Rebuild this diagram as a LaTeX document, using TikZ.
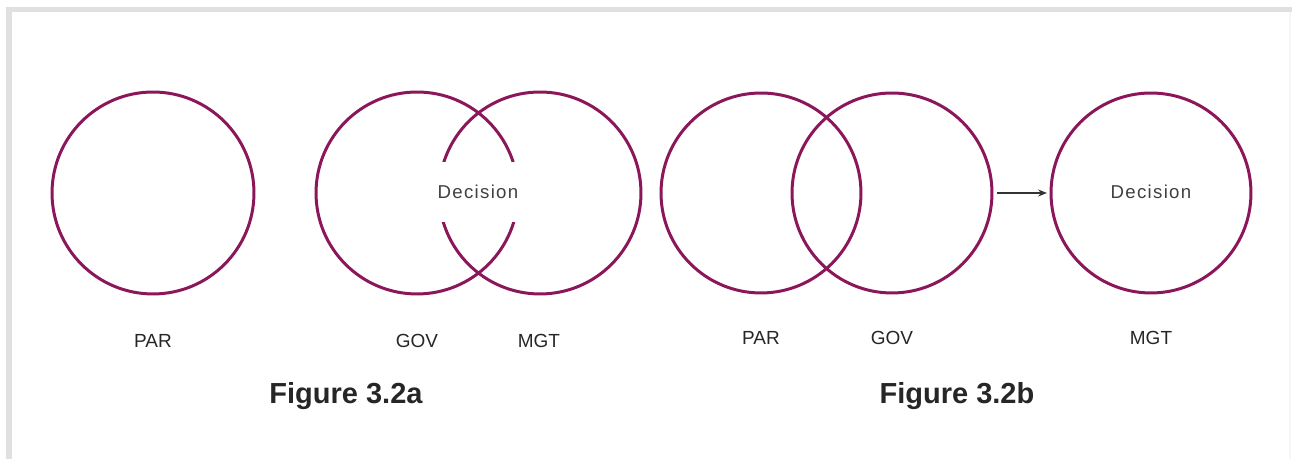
\documentclass[tikz,border=0pt]{standalone}
\usepackage{fontspec}
\setmainfont{Liberation Sans}
\newfontfamily\decfont[LetterSpace=7]{Liberation Sans}
\usetikzlibrary{arrows.meta}
\definecolor{ringcol}{RGB}{139,22,90}
\definecolor{framecol}{RGB}{224,224,226}
\tikzset{ring/.style={circle, draw=ringcol, line width=1.7pt, minimum size=#1, inner sep=0pt}}
\tikzset{lbl/.style={font=\fontsize{10.8}{13}\selectfont, text=black!85}}
\tikzset{dec/.style={font=\decfont\fontsize{10.6}{12}\selectfont, text=black!75}}
\tikzset{figtitle/.style={font=\bfseries\fontsize{16.5}{20}\selectfont, text=black!85}}

\begin{document}
\begin{tikzpicture}[x=0.02cm, y=0.02cm]
\useasboundingbox (0,0) rectangle (1292,459);

% frame
\draw[framecol, line width=2.9pt] (9,0) -- (9,449.5) -- (1292,449.5);
\draw[black!3, line width=0.6pt] (1290,0) -- (1290,447);

% Figure 3.2a
\node[ring=4.04cm] (para) at (153,266) {};
\node[ring=4.04cm] (gova) at (417,266) {};
\node[ring=4.04cm] (mgta) at (540,266) {};
\node[dec, fill=white, minimum width=1.7cm, minimum height=1.2cm] (deca) at (478,267) {Decision};

\node[lbl] (parlbla) at (153,118) {PAR};
\node[lbl] (govlbla) at (417,118) {GOV};
\node[lbl] (mgtlbla) at (539,118) {MGT};
\node[figtitle] (figa) at (346,63) {Figure 3.2a};

% Figure 3.2b
\node[ring=4.0cm] (parb) at (761,266) {};
\node[ring=4.0cm] (govb) at (892,266) {};
\node[ring=4.0cm] (decb) at (1151,266) {};
\node[dec] (decblbl) at (1151,267) {Decision};
\draw[black!80, line width=0.6pt, -{Stealth[length=5pt, width=4pt]}, shorten <=2pt, shorten >=1.5pt] (govb) -- (decb);

\node[lbl] (parlblb) at (761,121) {PAR};
\node[lbl] (govlblb) at (892,121) {GOV};
\node[lbl] (mgtlblb) at (1151,121) {MGT};
\node[figtitle] (figb) at (957,63) {Figure 3.2b};

\end{tikzpicture}
\end{document}
